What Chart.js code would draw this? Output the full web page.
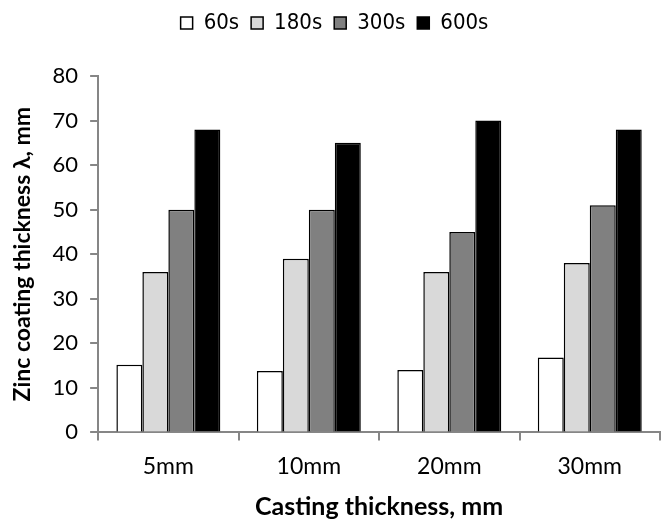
<!DOCTYPE html>
<html>
<head>
<meta charset="utf-8">
<script src="https://cdn.jsdelivr.net/npm/chart.js@4"></script>
<style>
  html, body { margin: 0; padding: 0; background: #fff; }
  #wrap { width: 662px; height: 522px; }
</style>
</head>
<body>
<div id="wrap"><canvas id="myChart" width="662" height="522"></canvas></div>
<script>
const categories = ['5mm', '10mm', '20mm', '30mm'];
const seriesNames = ['60s', '180s', '300s', '600s'];
const values60 = [15.2, 13.8, 14.0, 16.8];
const values180 = [36, 39, 36, 38];
const values300 = [50, 50, 45, 51];
const values600 = [68, 65, 70, 68];
const yTicks = [0, 10, 20, 30, 40, 50, 60, 70, 80];

const fills = ['#ffffff', '#d9d9d9', '#808080', '#000000'];
const font = 'Lato, "Open Sans", sans-serif';
const axisGray = '#868686';

// extra room under the legend
const legendGap = {
  id: 'legendGap',
  beforeInit(chart) {
    const fit = chart.legend.fit;
    chart.legend.fit = function () {
      fit.bind(chart.legend)();
      this.height += 32;
    };
  }
};

const ctx = document.getElementById('myChart').getContext('2d');
const chart = new Chart(ctx, {
  type: 'bar',
  data: {
    labels: categories,
    datasets: [values60, values180, values300, values600].map((vals, i) => ({
      label: seriesNames[i],
      data: vals,
      backgroundColor: fills[i],
      borderColor: '#000000',
      borderWidth: 1.5,
      borderSkipped: 'bottom',
      barPercentage: 1.0,
      categoryPercentage: 0.74
    }))
  },
  options: {
    responsive: false,
    animation: false,
    layout: { padding: { top: 0, right: 2, left: 9, bottom: 0 } },
    plugins: {
      legend: {
        position: 'top',
        labels: {
          boxWidth: 12,
          boxHeight: 12,
          padding: 12,
          color: '#000',
          font: { family: '"Liberation Sans Narrow", "DejaVu Sans Condensed", sans-serif', size: 22 }
        }
      },
      tooltip: { enabled: false }
    },
    scales: {
      x: {
        grid: {
          display: true,
          drawOnChartArea: false,
          drawTicks: true,
          tickLength: 8,
          color: axisGray,
          lineWidth: 2,
          offset: true
        },
        border: { display: true, color: axisGray, width: 2 },
        ticks: { color: '#000', padding: 12, font: { family: font, size: 23 } },
        title: {
          display: true,
          text: 'Casting thickness, mm',
          color: '#000',
          padding: { top: 0, bottom: 0 },
          font: { family: font, size: 25, weight: 'bold' }
        }
      },
      y: {
        min: 0,
        max: 80,
        afterBuildTicks: axis => { axis.ticks = yTicks.map(v => ({ value: v })); },
        grid: {
          display: true,
          drawOnChartArea: false,
          drawTicks: true,
          tickLength: 8,
          color: axisGray,
          lineWidth: 2
        },
        border: { display: true, color: axisGray, width: 2 },
        ticks: { color: '#000', padding: 12, font: { family: font, size: 22 } },
        title: {
          display: true,
          text: 'Zinc coating thickness λ, mm',
          color: '#000',
          padding: { top: 0, bottom: 4 },
          font: { family: font, size: 23, weight: 'bold' }
        }
      }
    }
  },
  plugins: [legendGap]
});
</script>
</body>
</html>
